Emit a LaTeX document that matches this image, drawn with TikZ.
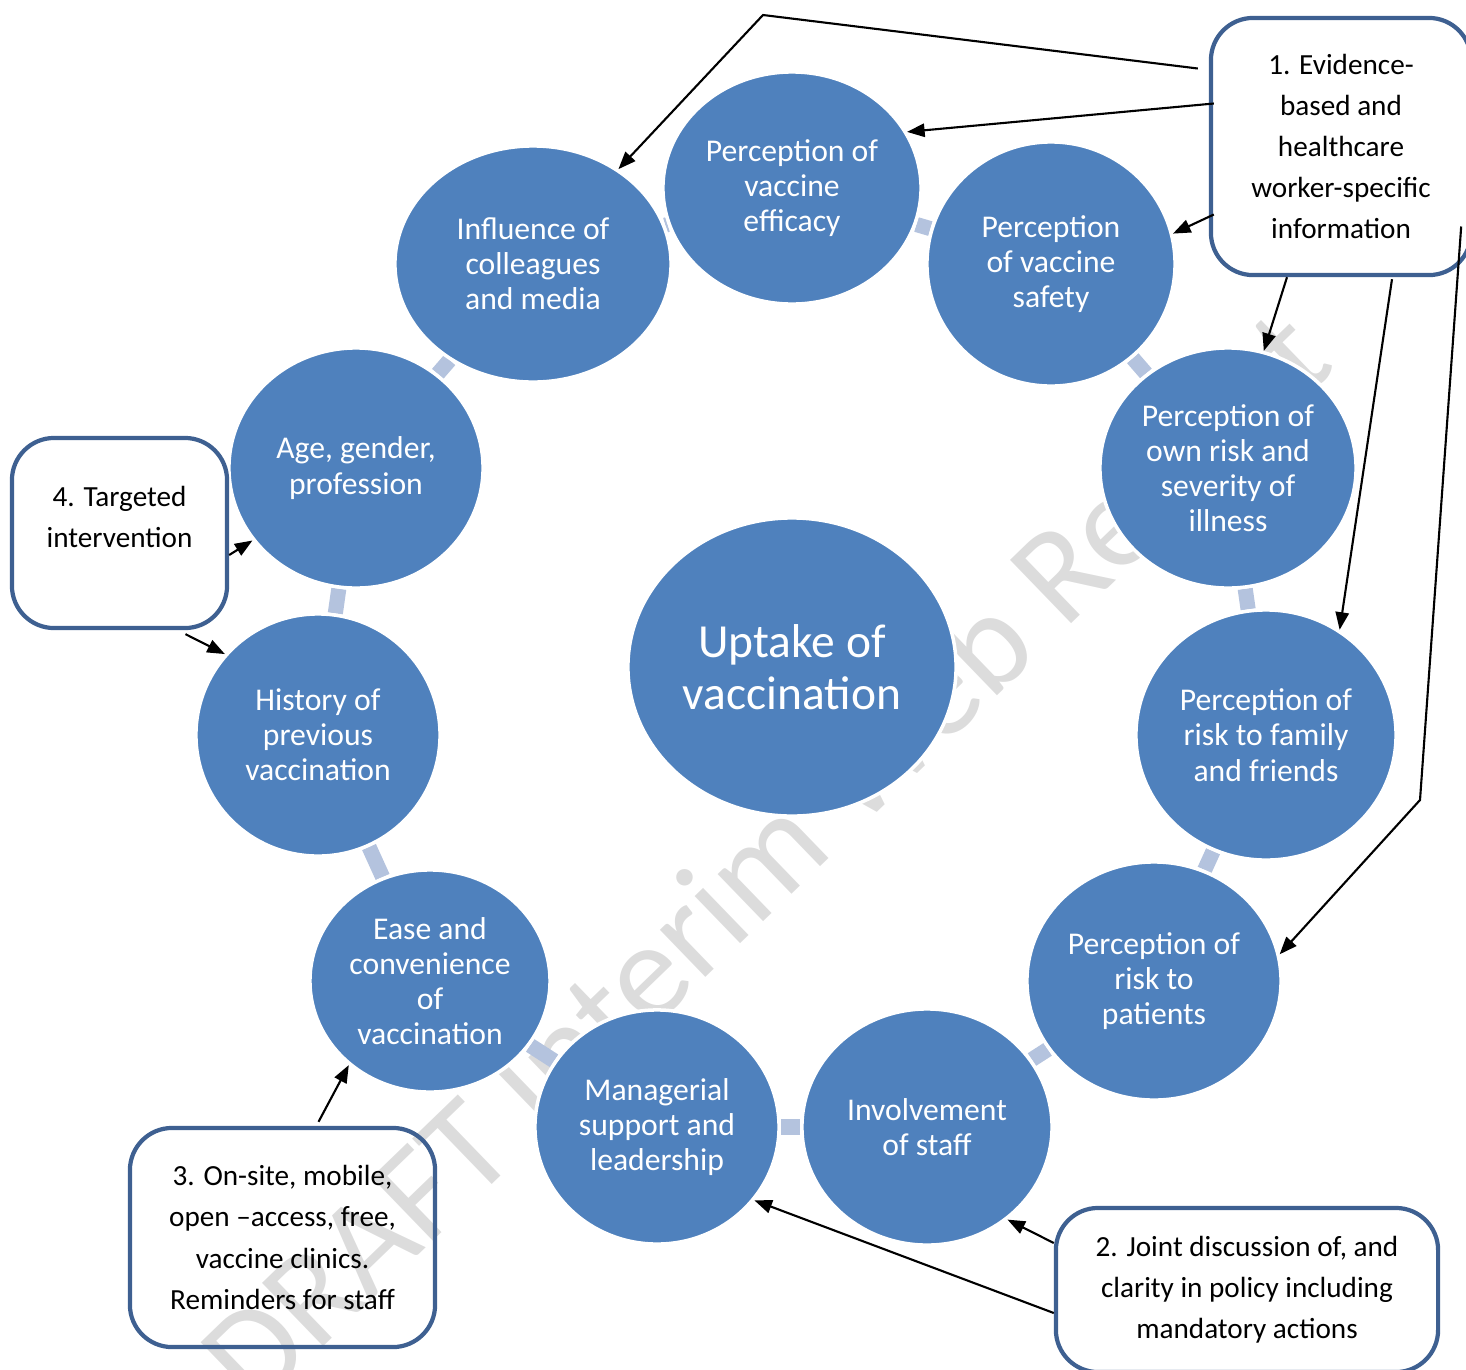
\documentclass[tikz,border=0pt]{standalone}
\usepackage{fontspec}
\setmainfont{Carlito}
\usetikzlibrary{arrows.meta, positioning, calc, shapes.geometric, backgrounds}
\definecolor{factorblue}{RGB}{79,129,189}
\definecolor{ringblue}{RGB}{180,195,222}
\definecolor{boxblue}{RGB}{62,96,145}
\definecolor{markgray}{RGB}{220,220,220}

\begin{document}
\begin{tikzpicture}[x=0.01cm, y=-0.01cm,
    factor/.style={ellipse, fill=factorblue, draw=white, line width=1pt, text=white, align=center, inner sep=0pt, font=\fontsize{9}{10}\selectfont},
    action/.style={draw=boxblue, line width=1.2pt, rounded corners=12pt, align=center, inner sep=0pt, font=\fontsize{8.3}{11.7}\selectfont},
    ring/.style={ringblue, line width=4.3pt},
    pointer/.style={line width=0.6pt, -{Triangle[length=5pt, width=3.8pt]}}]
    \useasboundingbox (0,0) rectangle (1466,1369);

    % Centre
    \node[factor, minimum width=3.28cm, minimum height=2.98cm, font=\fontsize{13.5}{14.8}\selectfont] (uptake) at (792,667) {Uptake of\\vaccination};

    % Ring of factors
    \node[factor, minimum width=2.58cm, minimum height=2.32cm] (effi) at (792,188) {Perception of\\vaccine\\efficacy};
    \node[factor, minimum width=2.48cm, minimum height=2.44cm] (safe) at (1051,264) {Perception\\of vaccine\\safety};
    \node[factor, minimum width=2.56cm, minimum height=2.40cm] (own) at (1228,468) {Perception of\\own risk and\\severity of\\illness};
    \node[factor, minimum width=2.60cm, minimum height=2.50cm] (fam) at (1266,735) {Perception of\\risk to family\\and friends};
    \node[factor, minimum width=2.54cm, minimum height=2.38cm] (pat) at (1154,981) {Perception of\\risk to\\patients};
    \node[factor, minimum width=2.50cm, minimum height=2.36cm] (inv) at (927,1127) {Involvement\\of staff};
    \node[factor, minimum width=2.44cm, minimum height=2.34cm] (man) at (657,1127) {Managerial\\support and\\leadership};
    \node[factor, minimum width=2.40cm, minimum height=2.22cm] (ease) at (430,981) {Ease and\\convenience\\of\\vaccination};
    \node[factor, minimum width=2.44cm, minimum height=2.42cm] (hist) at (318,735) {History of\\previous\\vaccination};
    \node[factor, minimum width=2.54cm, minimum height=2.40cm] (age) at (356,468) {Age, gender,\\profession};
    \node[factor, minimum width=2.76cm, minimum height=2.36cm] (infl) at (533,264) {Influence of\\colleagues\\and media};

    % Interventions
    \node[action, minimum width=2.60cm, minimum height=2.57cm] (evid) at (1341,146.5) {1. Evidence-\\based and\\healthcare\\worker-specific\\information};
    \node[action, minimum width=3.82cm, minimum height=1.64cm] (joint) at (1247,1290) {2. Joint discussion of, and\\clarity in policy including\\mandatory actions};
    \node[action, minimum width=3.05cm, minimum height=2.19cm] (clinic) at (282.5,1237.5) {3. On-site, mobile,\\open –access, free,\\vaccine clinics.\\Reminders for staff};
    \node[action, minimum width=2.15cm, minimum height=1.90cm, text depth=9pt] (target) at (119.5,533) {4. Targeted\\intervention};

    % Watermark and cycle links
    \begin{scope}[on background layer]
        \node[markgray, rotate=44, font=\fontsize{39}{39}\selectfont] (mark) at (771,864) {DRAFT Interim Web Report};
        \foreach \a/\b in {infl/effi, effi/safe, safe/own, own/fam, fam/pat, pat/inv, inv/man, man/ease, ease/hist, hist/age, age/infl}
            \draw[ring] (\a) -- (\b);
    \end{scope}

    % Arrows from 1
    \coordinate (kink1) at (763,15);
    \coordinate (kink2) at (1420,800);
    \draw[pointer] ($(evid.west)+(-11,-78)$) -- (kink1) -- (infl.48);
    \draw[pointer] ($(evid.west)+(5,-43)$) -- (effi.26);
    \draw[pointer] ($(evid.west)+(5,68)$) -- (safe.14);
    \draw[pointer] ($(evid.south)+(-54,0)$) -- (own.73);
    \draw[pointer] ($(evid.south)+(51,2)$) -- (fam.55);
    \draw[pointer] ($(evid.east)+(-12,80)$) -- (kink2) -- (pat.12);

    % Arrows from 2, 3 and 4
    \draw[pointer] ($(joint.west)+(0,-47)$) -- (inv.-49);
    \draw[pointer] ($(joint.west)+(0,23)$) -- (man.-37);
    \draw[pointer] ($(clinic.north)+(36,-4)$) -- (ease.226);
    \draw[pointer] ($(target.east)+(0,22)$) -- (age.215);
    \draw[pointer] ($(target.south)+(66,4)$) -- (hist.139);
\end{tikzpicture}
\end{document}
